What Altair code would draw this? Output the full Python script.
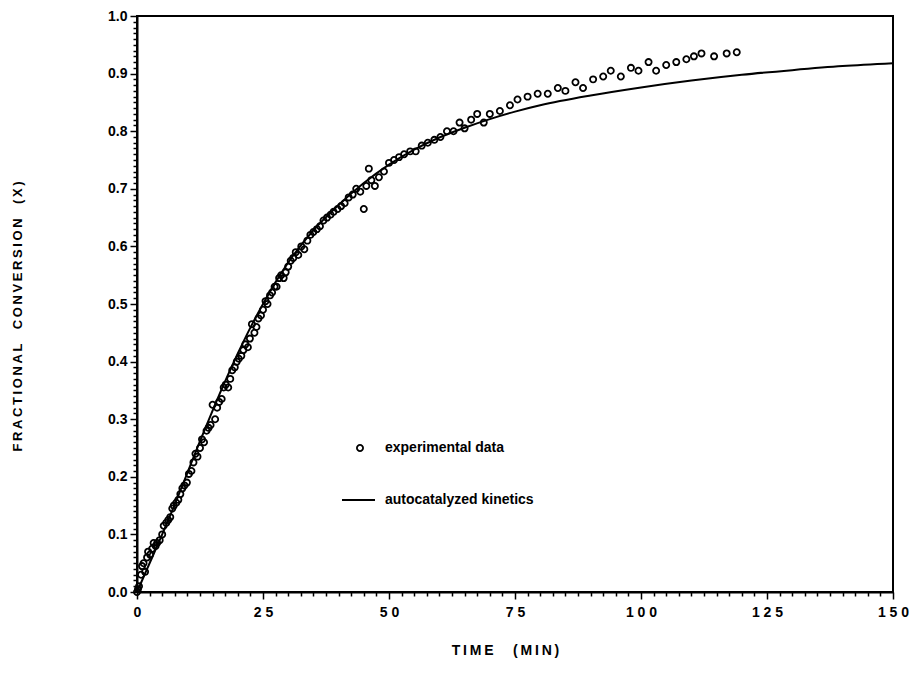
import altair as alt
import pandas as pd

# ---- data ----
time_exp = [0.0, 0.2, 0.4, 0.8, 1.0, 1.3, 1.6, 2.0, 2.2, 2.6, 3.0, 3.3, 3.7, 4.0, 4.5,
            5.0, 5.3, 5.8, 6.2, 6.6, 7.0, 7.3, 7.8, 8.2, 8.6, 9.0, 9.4, 9.9, 10.3, 10.8,
            11.2, 11.6, 12.0, 12.5, 12.9, 13.3, 13.8, 14.2, 14.6, 15.0, 15.5, 15.9, 16.3,
            16.8, 17.2, 17.6, 18.1, 18.5, 18.9, 19.4, 19.8, 20.2, 20.7, 21.1, 21.5, 22.0,
            22.4, 22.8, 23.3, 23.7, 24.1, 24.6, 25.0, 25.5, 25.9, 26.4, 26.8, 27.3, 27.7,
            28.2, 28.6, 29.1, 29.5, 30.0, 30.5, 31.0, 31.5, 32.0, 32.6, 33.2, 33.8, 34.4,
            35.0, 35.7, 36.3, 37.0, 37.7, 38.4, 39.0, 39.8, 40.5, 41.2, 42.0, 42.8, 43.5,
            44.3, 45.0, 45.5, 46.0, 46.5, 47.2, 48.0, 49.0, 50.0, 51.0, 52.0, 53.0, 54.2,
            55.3, 56.5, 57.7, 59.0, 60.2, 61.5, 62.8, 64.0, 65.0, 66.3, 67.5, 68.8, 70.0,
            72.0, 74.0, 75.5, 77.5, 79.5, 81.5, 83.5, 85.0, 87.0, 88.5, 90.5, 92.5, 94.0,
            96.0, 98.0, 99.5, 101.5, 103.0, 105.0, 107.0, 109.0, 110.5, 112.0, 114.5,
            117.0, 119.0]
conv_exp = [0.0, 0.005, 0.01, 0.03, 0.045, 0.05, 0.035, 0.06, 0.07, 0.065, 0.075, 0.085,
            0.08, 0.085, 0.09, 0.10, 0.115, 0.12, 0.125, 0.13, 0.145, 0.15, 0.155, 0.16,
            0.17, 0.18, 0.185, 0.19, 0.205, 0.21, 0.225, 0.24, 0.235, 0.25, 0.265, 0.26,
            0.28, 0.285, 0.29, 0.325, 0.30, 0.32, 0.33, 0.335, 0.355, 0.36, 0.355, 0.37,
            0.385, 0.39, 0.40, 0.405, 0.41, 0.42, 0.43, 0.425, 0.44, 0.465, 0.45, 0.46,
            0.475, 0.48, 0.49, 0.505, 0.50, 0.515, 0.52, 0.53, 0.53, 0.545, 0.55, 0.545,
            0.555, 0.565, 0.575, 0.58, 0.59, 0.585, 0.60, 0.595, 0.61, 0.62, 0.625, 0.63,
            0.635, 0.645, 0.65, 0.655, 0.66, 0.665, 0.67, 0.675, 0.685, 0.69, 0.70, 0.695,
            0.665, 0.705, 0.735, 0.715, 0.705, 0.72, 0.73, 0.745, 0.75, 0.755, 0.76, 0.765,
            0.765, 0.775, 0.78, 0.785, 0.79, 0.80, 0.80, 0.815, 0.805, 0.82, 0.83, 0.815,
            0.83, 0.835, 0.845, 0.855, 0.86, 0.865, 0.865, 0.875, 0.87, 0.885, 0.875, 0.89,
            0.895, 0.905, 0.895, 0.91, 0.905, 0.92, 0.905, 0.915, 0.92, 0.925, 0.93, 0.935,
            0.93, 0.935, 0.937]

time_model = [0, 2, 5, 8, 10, 12.5, 15, 17.5, 20, 22.5, 25, 27.5, 30, 35, 40, 45, 50, 55,
              60, 65, 70, 75, 80, 90, 100, 110, 120, 130, 140, 150]
conv_model = [0.0, 0.04, 0.10, 0.163, 0.207, 0.262, 0.315, 0.366, 0.414, 0.459, 0.50, 0.538,
              0.572, 0.628, 0.672, 0.71, 0.742, 0.768, 0.789, 0.806, 0.821, 0.834, 0.845,
              0.862, 0.876, 0.888, 0.898, 0.906, 0.913, 0.918]

x_major = [0, 25, 50, 75, 100, 125, 150]
x_major_labels = ["0", "2 5", "5 0", "7 5", "1 0 0", "1 2 5", "1 5 0"]
legend_labels = ["experimental data", "autocatalyzed kinetics"]
y_title_words = ["FRACTIONAL", "CONVERSION", "(X)"]
x_title_words = ["TIME", "(MIN)"]

exp_df = pd.DataFrame({"t": time_exp, "X": conv_exp})
model_df = pd.DataFrame({"t": time_model, "X": conv_model})

x_ticks = [i * 2.5 for i in range(61)]
y_ticks = [round(i * 0.01, 2) for i in range(101)]

THIN = "\u2009"
NB = "\u00a0"
y_title = (NB * 4).join(THIN.join(w) for w in y_title_words)
x_title = (NB * 5).join(THIN.join(w) for w in x_title_words)

x_label_expr = " : ".join(
    f"datum.value == {v} ? '{l}'" for v, l in zip(x_major, x_major_labels)
) + " : ''"
y_major_test = "abs(datum.value*10 - round(datum.value*10)) < 0.001"

FONT = "Liberation Sans"

xscale = alt.Scale(domain=[0, 150], nice=False, zero=False)
yscale = alt.Scale(domain=[0, 1], nice=False)

x_axis = alt.Axis(
    values=x_ticks,
    labelExpr=x_label_expr,
    labelOverlap=False,
    labelFlush=False,
    labelBound=False,
    labelPadding=6,
    tickSize={"condition": {"test": "datum.value % 25 === 0", "value": 7}, "value": 4},
    title=x_title,
    titleX=368,
    titleY=58,
    titleAlign="center",
    titleBaseline="middle",
    titleFontSize=14,
)
y_axis = alt.Axis(
    values=y_ticks,
    labelExpr=f"{y_major_test} ? format(datum.value, '.1f') : ''",
    labelOverlap=False,
    labelFlush=False,
    labelBound=False,
    labelPadding=3,
    tickSize={"condition": {"test": y_major_test, "value": 7}, "value": 4},
    title=y_title,
    titleAngle=-90,
    titleX=-120,
    titleY=300,
    titleAlign="center",
    titleBaseline="middle",
    titleFontSize=13,
)

points = alt.Chart(exp_df).mark_point(
    shape="circle", filled=False, color="black", size=38, strokeWidth=1.8, opacity=1
).encode(
    x=alt.X("t:Q", scale=xscale, axis=x_axis),
    y=alt.Y("X:Q", scale=yscale, axis=y_axis),
)

line = alt.Chart(model_df).mark_line(
    color="black", strokeWidth=2, interpolate="monotone"
).encode(
    x=alt.X("t:Q", scale=xscale, axis=x_axis),
    y=alt.Y("X:Q", scale=yscale, axis=y_axis),
)

leg_df = pd.DataFrame({"label": legend_labels})
leg_point = alt.Chart(leg_df.iloc[[0]]).mark_point(
    shape="circle", filled=False, color="black", size=38, strokeWidth=1.8, opacity=1
).encode(x=alt.value(223), y=alt.value(432))
leg_line = alt.Chart(leg_df.iloc[[1]]).mark_rule(color="black", strokeWidth=2).encode(
    x=alt.value(205), x2=alt.value(238), y=alt.value(484)
)
leg_text1 = alt.Chart(leg_df.iloc[[0]]).mark_text(
    align="left", baseline="middle", font=FONT, fontWeight="bold", fontSize=14, color="black"
).encode(x=alt.value(248), y=alt.value(432), text="label:N")
leg_text2 = alt.Chart(leg_df.iloc[[1]]).mark_text(
    align="left", baseline="middle", font=FONT, fontWeight="bold", fontSize=14, color="black"
).encode(x=alt.value(248), y=alt.value(484), text="label:N")

chart = alt.layer(points, line, leg_point, leg_line, leg_text1, leg_text2).properties(
    width=756,
    height=576,
    autosize=alt.AutoSizeParams(type="none"),
    padding={"left": 129, "top": 8, "right": 16, "bottom": 77},
    background="white",
).configure_view(
    stroke="black", strokeWidth=2
).configure_axis(
    grid=False,
    labelOverlap=False,
    domainColor="black",
    domainWidth=2,
    tickColor="black",
    tickWidth=1.5,
    labelFont=FONT,
    labelFontWeight="bold",
    labelFontSize=14,
    labelColor="black",
    titleFont=FONT,
    titleFontWeight="bold",
    titleColor="black",
)

chart.save("out.html", embed_options={"renderer": "svg", "actions": False})
